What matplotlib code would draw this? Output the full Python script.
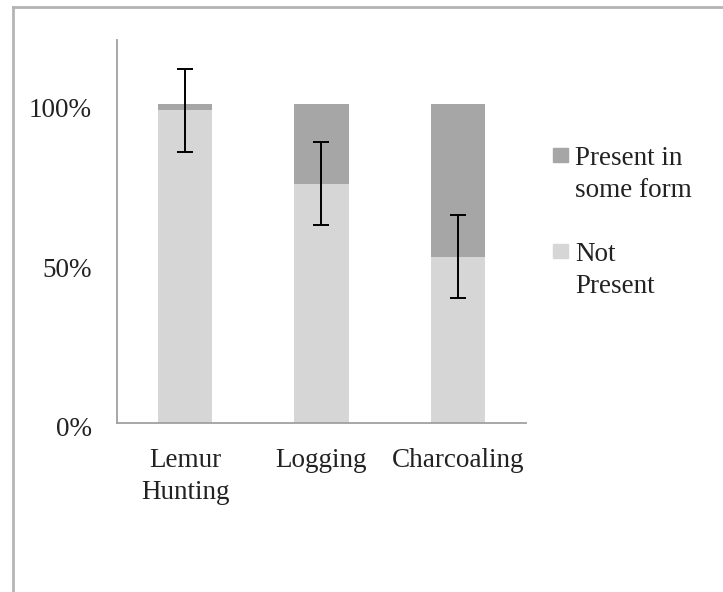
import numpy as np
import matplotlib
matplotlib.use("Agg")
from matplotlib import pyplot as plt
from matplotlib import transforms
from matplotlib.patches import Rectangle
from matplotlib.lines import Line2D

# data
categories = ["Lemur\nHunting", "Logging", "Charcoaling"]
not_present = [98, 75, 52]
present_some = [2, 25, 48]
errors = [13, 13, 13]
yticks = [0, 50, 100]
ytick_labels = ["0%", "50%", "100%"]
legend_labels = ["Present in\nsome form", "Not\nPresent"]

dark = "#a6a6a6"
light = "#d6d6d6"
font = "Liberation Serif"

plt.rcParams["font.family"] = font
fig = plt.figure(figsize=(7.23, 5.92), dpi=100)
ax = fig.add_axes([0.1618, 0.286, 0.5657, 0.6464])

x = np.arange(len(categories))
ax.bar(x, not_present, width=0.4, color=light)
ax.bar(x, present_some, width=0.4, bottom=not_present, color=dark)
ax.errorbar(x, not_present, yerr=errors, fmt="none", ecolor="black",
            elinewidth=1.4, capsize=6, capthick=1.4)

ax.set_xlim(-0.5, 2.5)
ax.set_ylim(0, 120)
ax.set_xticks(x)
ax.set_xticklabels(categories, fontsize=19.5, color="#222222", linespacing=1.38)
ax.set_yticks(yticks)
ax.set_yticklabels(ytick_labels, fontsize=19.5, color="#222222")
ax.tick_params(axis="both", length=0)
ax.tick_params(axis="y", pad=18)
ax.tick_params(axis="x", pad=18)

# excel puts the y labels a little under their ticks
off = transforms.ScaledTranslation(0, -4 / 100, fig.dpi_scale_trans)
for lab in ax.get_yticklabels():
    lab.set_transform(lab.get_transform() + off)

for s in ["top", "right"]:
    ax.spines[s].set_visible(False)
for s in ["left", "bottom"]:
    ax.spines[s].set_color("#a0a0a0")
    ax.spines[s].set_linewidth(1.3)

# legend drawn by hand so the squares sit on the first line
W, H = 723.0, 592.0
leg_y = [155, 251]
for col, lab, yy in zip([dark, light], legend_labels, leg_y):
    fig.patches.append(Rectangle((553 / W, 1 - (yy + 7) / H), 15 / W, 14 / H,
                                 transform=fig.transFigure, color=col))
    fig.text(575 / W, 1 - (yy - 9) / H, lab, fontsize=19.5, color="#222222",
             va="top", ha="left", linespacing=1.36)

# thin frame on left and top like the screenshot
fig.lines.append(Line2D([13 / W, 13 / W], [0, 1 - 7 / H], transform=fig.transFigure,
                        color="#b4b4b4", lw=2))
fig.lines.append(Line2D([13 / W, 1], [1 - 7 / H, 1 - 7 / H], transform=fig.transFigure,
                        color="#b4b4b4", lw=2))

fig.savefig("out.png", dpi=100)
